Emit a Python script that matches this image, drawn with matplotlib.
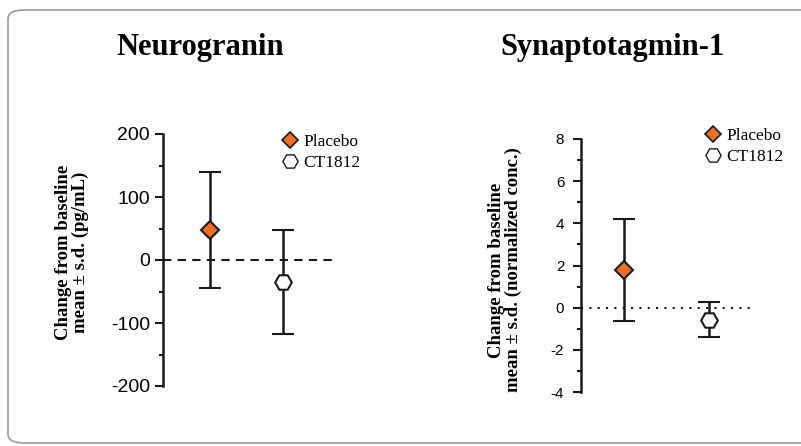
import matplotlib.pyplot as plt
from matplotlib.patches import FancyBboxPatch
from matplotlib.lines import Line2D

plt.rcParams['axes.unicode_minus'] = False

groups = ["Placebo", "CT1812"]

# Neurogranin (pg/mL)
ng_mean = [48, -35]
ng_lower = [-45, -118]
ng_upper = [140, 47]

# Synaptotagmin-1 (normalized conc.)
syt_mean = [1.8, -0.6]
syt_lower = [-0.65, -1.4]
syt_upper = [4.2, 0.25]

orange = '#E8702A'
dark = '#1a1a1a'
serif = 'Liberation Serif'
sans = 'Liberation Sans'


def draw_panel(ax, means, lows, highs, ylim, major, minor, zero_style, tick_fs):
    xs = [1, 2]
    for i, g in enumerate(groups):
        err = [[means[i] - lows[i]], [highs[i] - means[i]]]
        if g == "Placebo":
            mk, fc, ms = 'D', orange, 9
        else:
            mk, fc, ms = 'H', 'white', 12
        ax.errorbar([xs[i]], [means[i]], yerr=err, fmt=mk, color=dark,
                    mfc=fc, mec=dark, mew=1.5, ms=ms, capsize=8,
                    elinewidth=1.8, capthick=1.8, zorder=3)
    ax.axhline(0, color=dark, lw=1.5, ls=zero_style, zorder=1)
    ax.set_ylim(*ylim)
    ax.set_yticks(major)
    ax.set_yticks(minor, minor=True)
    ax.set_xticks([])
    for s in ['top', 'right', 'bottom']:
        ax.spines[s].set_visible(False)
    ax.spines['left'].set_linewidth(1.8)
    ax.spines['left'].set_color(dark)
    ax.tick_params(axis='y', which='major', length=6, width=1.5,
                   labelsize=tick_fs, color=dark)
    ax.tick_params(axis='y', which='minor', length=3, width=1.5, color=dark)
    for lab in ax.get_yticklabels():
        lab.set_fontfamily(sans)
    ax.patch.set_alpha(0)


fig = plt.figure(figsize=(8.01, 4.46), dpi=100)

border = FancyBboxPatch((8 / 801, 3 / 446), 830 / 801, 433 / 446,
                        boxstyle="round,pad=0,rounding_size=0.02",
                        transform=fig.transFigure, fill=False,
                        ec='#9a9a9a', lw=1.2)
fig.patches.append(border)

ax1 = fig.add_axes([163 / 801, 60 / 446, 171 / 801, 252 / 446])
ax1.set_xlim(0.356, 2.70)
draw_panel(ax1, ng_mean, ng_lower, ng_upper, (-200, 200),
           [-200, -100, 0, 100, 200], [-150, -50, 50, 150], (0, (4, 3)), 14)

ax2 = fig.add_axes([581 / 801, 54 / 446, 171 / 801, 253 / 446])
ax2.set_xlim(0.494, 2.506)
draw_panel(ax2, syt_mean, syt_lower, syt_upper, (-4, 8),
           [-4, -2, 0, 2, 4, 6, 8], [-3, -1, 1, 3, 5, 7], (0, (1, 3)), 11)
ax2.tick_params(axis='y', which='major', pad=6)

fig.text(200 / 801, 1 - 47 / 446, "Neurogranin", family=serif,
         weight='bold', fontsize=22, ha='center', va='center')
fig.text(613 / 801, 1 - 47 / 446, "Synaptotagmin-1", family=serif,
         weight='bold', fontsize=22, ha='center', va='center')

fig.text(72 / 801, 1 - 252 / 446, "Change from baseline\nmean \u00b1 s.d. (pg/mL)",
         family=serif, weight='bold', fontsize=13.5, rotation=90,
         ha='center', va='center', linespacing=1.0)
fig.text(505 / 801, 1 - 270 / 446,
         "Change from baseline\nmean \u00b1 s.d. (normalized conc.)",
         family=serif, weight='bold', fontsize=13.5, rotation=90,
         ha='center', va='center', linespacing=1.0)

handles = [
    Line2D([], [], ls='none', marker='D', mfc=orange, mec=dark, mew=1.2, ms=8),
    Line2D([], [], ls='none', marker='H', mfc='white', mec=dark, mew=1.0, ms=11),
]
for ax, anchor in [(ax1, (281 / 801, 1 - 134 / 446)), (ax2, (704 / 801, 1 - 128 / 446))]:
    ax.legend(handles, groups, loc='upper left', bbox_to_anchor=anchor,
              bbox_transform=fig.transFigure, frameon=False,
              prop={'family': serif, 'size': 12.5}, handletextpad=0.3,
              borderpad=0, borderaxespad=0, labelspacing=0.25,
              handlelength=1.0)

fig.savefig('out.png', dpi=100, facecolor='white')
